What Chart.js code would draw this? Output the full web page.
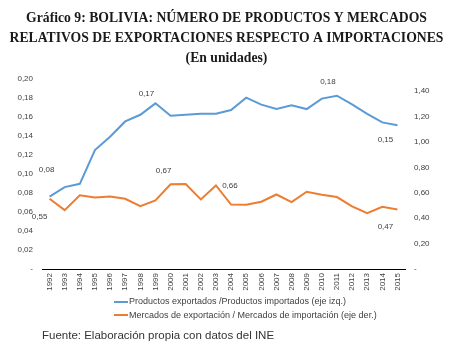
<!DOCTYPE html>
<html>
<head>
<meta charset="utf-8">
<script src="https://cdn.jsdelivr.net/npm/chart.js@4/dist/chart.umd.min.js"></script>
<style>
  html, body { margin: 0; padding: 0; background: #fff; }
  #wrap { position: relative; width: 466px; height: 349px; }
  #legend { position: absolute; left: 114px; top: 295px; font: 9px "Liberation Sans", Arial, sans-serif; color: #404040; }
  #legend div { height: 13.5px; line-height: 13px; white-space: nowrap; }
  #legend span { display: inline-block; width: 14px; height: 2px; vertical-align: middle; margin-right: 1px; }
  #source { position: absolute; left: 42px; top: 329px; font: 11.5px "Liberation Sans", Arial, sans-serif; color: #333; }
</style>
</head>
<body>
<div id="wrap">
  <canvas id="chart" width="466" height="349"></canvas>
  <div id="legend"></div>
  <div id="source">Fuente: Elaboración propia con datos del INE</div>
</div>
<script>
const years = ['1992','1993','1994','1995','1996','1997','1998','1999','2000','2001','2002','2003',
  '2004','2005','2006','2007','2008','2009','2010','2011','2012','2013','2014','2015'];
// productos exportados / productos importados (eje izquierdo)
const productos = [0.076, 0.086, 0.0895, 0.125, 0.139, 0.155, 0.162, 0.174, 0.161, 0.162, 0.163, 0.163,
  0.167, 0.180, 0.1726, 0.168, 0.172, 0.168, 0.179, 0.182, 0.173, 0.163, 0.154, 0.151];
// mercados de exportación / mercados de importación (eje derecho)
const mercados = [0.553, 0.464, 0.58, 0.564, 0.572, 0.553, 0.495, 0.54, 0.668, 0.67, 0.548, 0.658,
  0.508, 0.506, 0.53, 0.587, 0.527, 0.609, 0.585, 0.567, 0.493, 0.44, 0.49, 0.469];
const seriesNames = ['Productos exportados /Productos importados (eje izq.)',
  'Mercados de exportación / Mercados de importación (eje der.)'];
const seriesColors = ['#5B9BD5', '#ED7D31'];
const leftTicks = [0, 0.02, 0.04, 0.06, 0.08, 0.10, 0.12, 0.14, 0.16, 0.18, 0.20];
const rightTicks = [0, 0.2, 0.4, 0.6, 0.8, 1.0, 1.2, 1.4];

// etiquetas de valor: [serie, índice, dx, dy]
const valueLabels = [
  [0, 0, -3, -27], [1, 0, -10, 18], [0, 7, -9, -10], [1, 8, -7, -13],
  [1, 11, 14, 0], [0, 19, -9, -14], [0, 23, -12, 15], [1, 23, -12, 17]
];

const fmt = v => v === 0 ? '-' : v.toFixed(2).replace('.', ',');

const labelPlugin = {
  id: 'valueLabels',
  afterDatasetsDraw(chart) {
    const ctx = chart.ctx;
    ctx.save();
    ctx.font = '8px "Liberation Sans", Arial, sans-serif';
    ctx.fillStyle = '#404040';
    ctx.textAlign = 'center';
    ctx.textBaseline = 'middle';
    valueLabels.forEach(([ds, i, dx, dy]) => {
      const pt = chart.getDatasetMeta(ds).data[i];
      ctx.fillText(fmt(chart.data.datasets[ds].data[i]), pt.x + dx, pt.y + dy);
    });
    ctx.restore();
  }
};

const tickFont = { family: '"Liberation Sans", Arial, sans-serif', size: 8 };

new Chart(document.getElementById('chart'), {
  type: 'line',
  data: {
    labels: years,
    datasets: [
      { label: seriesNames[0], data: productos, yAxisID: 'y', borderColor: seriesColors[0], borderWidth: 2, pointRadius: 0, tension: 0 },
      { label: seriesNames[1], data: mercados, yAxisID: 'y1', borderColor: seriesColors[1], borderWidth: 2, pointRadius: 0, tension: 0 }
    ]
  },
  options: {
    responsive: false,
    animation: false,
    layout: { padding: { left: 0, right: 13, top: 0, bottom: 0 } },
    plugins: {
      legend: { display: false },
      tooltip: { enabled: false },
      title: {
        display: true,
        text: ['Gráfico 9: BOLIVIA: NÚMERO DE PRODUCTOS Y MERCADOS',
          'RELATIVOS DE EXPORTACIONES RESPECTO A IMPORTACIONES', '(En unidades)'],
        font: { family: '"Liberation Serif", "Times New Roman", serif', size: 13.7, weight: 'bold', lineHeight: 1.45 },
        color: '#1a1a1a',
        padding: { top: 9, bottom: 10 }
      }
    },
    scales: {
      x: {
        offset: true,
        grid: { display: false, drawTicks: false },
        border: { display: true, color: '#000', width: 1 },
        ticks: { font: tickFont, color: '#404040', minRotation: 90, maxRotation: 90, padding: 4, autoSkip: false },
        afterFit: s => { s.height = 80; }
      },
      y: {
        position: 'left',
        min: 0, max: 0.2,
        grid: { display: false, drawTicks: false },
        border: { display: false },
        afterBuildTicks: s => { s.ticks = leftTicks.map(v => ({ value: v })); },
        ticks: { font: tickFont, color: '#404040', padding: 9, callback: fmt },
        afterFit: s => { s.width = 42; }
      },
      y1: {
        position: 'right',
        min: 0, max: 1.5,
        grid: { display: false, drawTicks: false },
        border: { display: false },
        afterBuildTicks: s => { s.ticks = rightTicks.map(v => ({ value: v })); },
        ticks: { font: tickFont, color: '#404040', padding: 9, callback: fmt },
        afterFit: s => { s.width = 48; }
      }
    }
  },
  plugins: [labelPlugin]
});

// leyenda en dos filas
const legend = document.getElementById('legend');
seriesNames.forEach((name, i) => {
  const row = document.createElement('div');
  const line = document.createElement('span');
  line.style.background = seriesColors[i];
  row.appendChild(line);
  row.appendChild(document.createTextNode(name));
  legend.appendChild(row);
});
</script>
</body>
</html>
